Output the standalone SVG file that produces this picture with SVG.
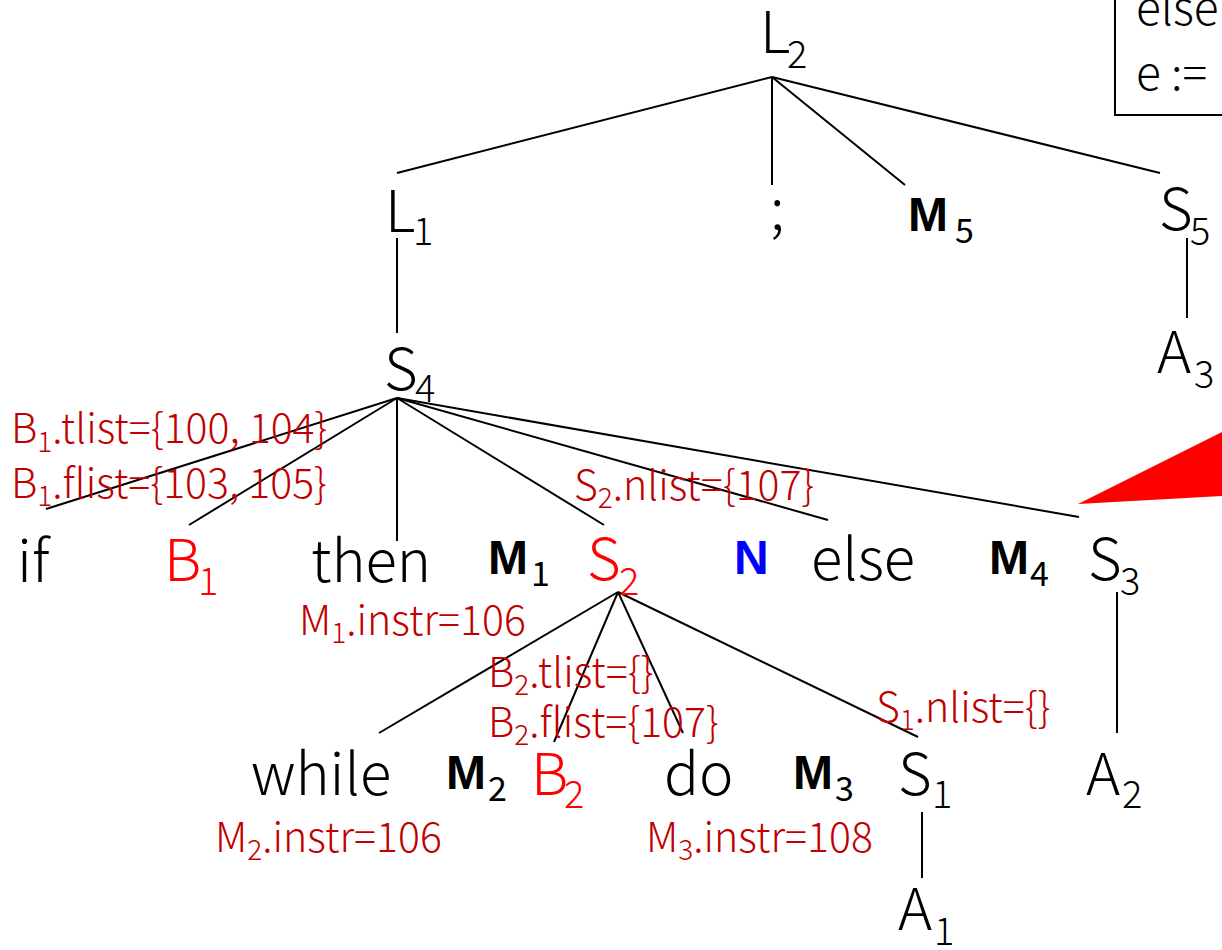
<svg xmlns="http://www.w3.org/2000/svg" width="1222" height="950" viewBox="0 0 1222 950">
<style>
.t{font-family:"Noto Sans CJK SC","Noto Sans",sans-serif;font-weight:300;font-size:58px;fill:#000}
.s{font-size:38px}
.r{fill:#FF0000}
.lab{font-family:"Noto Sans CJK SC","Noto Sans",sans-serif;font-weight:300;font-size:41px;fill:#C00000}
.ls{font-size:28px}
.m{font-family:"Liberation Sans",Arial,sans-serif;font-weight:bold;font-size:48px;fill:#000}
.ms{font-family:"Noto Sans CJK SC","Noto Sans",sans-serif;font-weight:400;font-size:34px}
.e line{stroke:#000;stroke-width:2}
</style>
<rect width="1222" height="950" fill="#fff"/>
<g id="box">
<rect x="1115" y="-4" width="120" height="119" fill="none" stroke="#000" stroke-width="2"/>
<text class="t" x="1136" y="25" style="font-size:46px">else</text>
<text class="t" x="1136" y="90" style="font-size:46px">e :=</text>
</g>
<polygon id="callout" points="1078,504 1222,432 1222,496" fill="#FF0000"/>
<g class="e" id="edges">
<line x1="772" y1="77" x2="397" y2="173"/>
<line x1="772" y1="77" x2="772" y2="185"/>
<line x1="772" y1="77" x2="905" y2="185"/>
<line x1="772" y1="77" x2="1160" y2="173"/>
<line x1="397" y1="238" x2="397" y2="333"/>
<line x1="1187" y1="238" x2="1187" y2="318"/>
<line x1="397" y1="398" x2="46" y2="509"/>
<line x1="397" y1="398" x2="189" y2="525"/>
<line x1="397" y1="398" x2="397" y2="541"/>
<line x1="397" y1="398" x2="604" y2="525"/>
<line x1="397" y1="398" x2="828" y2="520"/>
<line x1="397" y1="398" x2="1079" y2="517"/>
<line x1="618" y1="592" x2="379" y2="733"/>
<line x1="618" y1="592" x2="554" y2="742"/>
<line x1="618" y1="592" x2="683" y2="733"/>
<line x1="618" y1="592" x2="918" y2="737"/>
<line x1="1117" y1="592" x2="1117" y2="733"/>
<line x1="922" y1="812" x2="922" y2="878"/>
</g>
<g id="L2"><text class="t" x="760" y="53">L<tspan class="s" x="787" y="68">2</tspan></text></g>
<g id="L1"><text class="t" x="385" y="232">L<tspan class="s" x="413" y="245">1</tspan></text></g>
<g id="semi"><text class="t" x="770" y="230">;</text></g>
<g id="M5"><text class="m" x="908" y="231">M<tspan class="ms" x="955" y="243">5</tspan></text></g>
<g id="S5"><text class="t" x="1159" y="230">S<tspan class="s" x="1190" y="245">5</tspan></text></g>
<g id="A3"><text class="t" x="1157" y="373">A<tspan class="s" x="1194" y="388">3</tspan></text></g>
<g id="S4"><text class="t" x="384" y="390">S<tspan class="s" x="415" y="402">4</tspan></text></g>
<g id="if"><text class="t" x="17" y="582">if</text></g>
<g id="B1"><text class="t r" x="164" y="581">B<tspan class="s" x="198" y="595">1</tspan></text></g>
<g id="then"><text class="t" x="311" y="582">then</text></g>
<g id="M1"><text class="m" x="488" y="574">M<tspan class="ms" x="531" y="586">1</tspan></text></g>
<g id="S2"><text class="t r" x="587" y="580">S<tspan class="s" x="619" y="595">2</tspan></text></g>
<g id="N"><text class="m" x="734" y="574" style="fill:#0000FF">N</text></g>
<g id="else"><text class="t" x="811" y="580">else</text></g>
<g id="M4"><text class="m" x="989" y="574">M<tspan class="ms" x="1030" y="586">4</tspan></text></g>
<g id="S3"><text class="t" x="1088" y="580">S<tspan class="s" x="1120" y="595">3</tspan></text></g>
<g id="while"><text class="t" x="251" y="795">while</text></g>
<g id="M2"><text class="m" x="446" y="789">M<tspan class="ms" x="488" y="801">2</tspan></text></g>
<g id="B2"><text class="t r" x="531" y="795">B<tspan class="s" x="564" y="808">2</tspan></text></g>
<g id="do"><text class="t" x="664" y="795">do</text></g>
<g id="M3"><text class="m" x="793" y="789">M<tspan class="ms" x="835" y="801">3</tspan></text></g>
<g id="S1"><text class="t" x="898" y="795">S<tspan class="s" x="932" y="808">1</tspan></text></g>
<g id="A2"><text class="t" x="1086" y="795">A<tspan class="s" x="1122" y="808">2</tspan></text></g>
<g id="A1"><text class="t" x="898" y="930">A<tspan class="s" x="934" y="945">1</tspan></text></g>
<g id="labels">
<text class="lab" x="11" y="443">B<tspan class="ls" y="452">1</tspan><tspan y="443">.tlist={100, 104}</tspan></text>
<text class="lab" x="11" y="498">B<tspan class="ls" y="506">1</tspan><tspan y="498">.flist={103, 105}</tspan></text>
<text class="lab" x="574" y="500">S<tspan class="ls" y="508">2</tspan><tspan y="500">.nlist={107}</tspan></text>
<text class="lab" x="299" y="635">M<tspan class="ls" y="643">1</tspan><tspan y="635">.instr=106</tspan></text>
<text class="lab" x="488" y="687">B<tspan class="ls" y="695">2</tspan><tspan y="687">.tlist={}</tspan></text>
<text class="lab" x="488" y="737">B<tspan class="ls" y="745">2</tspan><tspan y="737">.flist={107}</tspan></text>
<text class="lab" x="876" y="722">S<tspan class="ls" y="730">1</tspan><tspan y="722">.nlist={}</tspan></text>
<text class="lab" x="215" y="852">M<tspan class="ls" y="860">2</tspan><tspan y="852">.instr=106</tspan></text>
<text class="lab" x="646" y="852">M<tspan class="ls" y="860">3</tspan><tspan y="852">.instr=108</tspan></text>
</g>
</svg>
